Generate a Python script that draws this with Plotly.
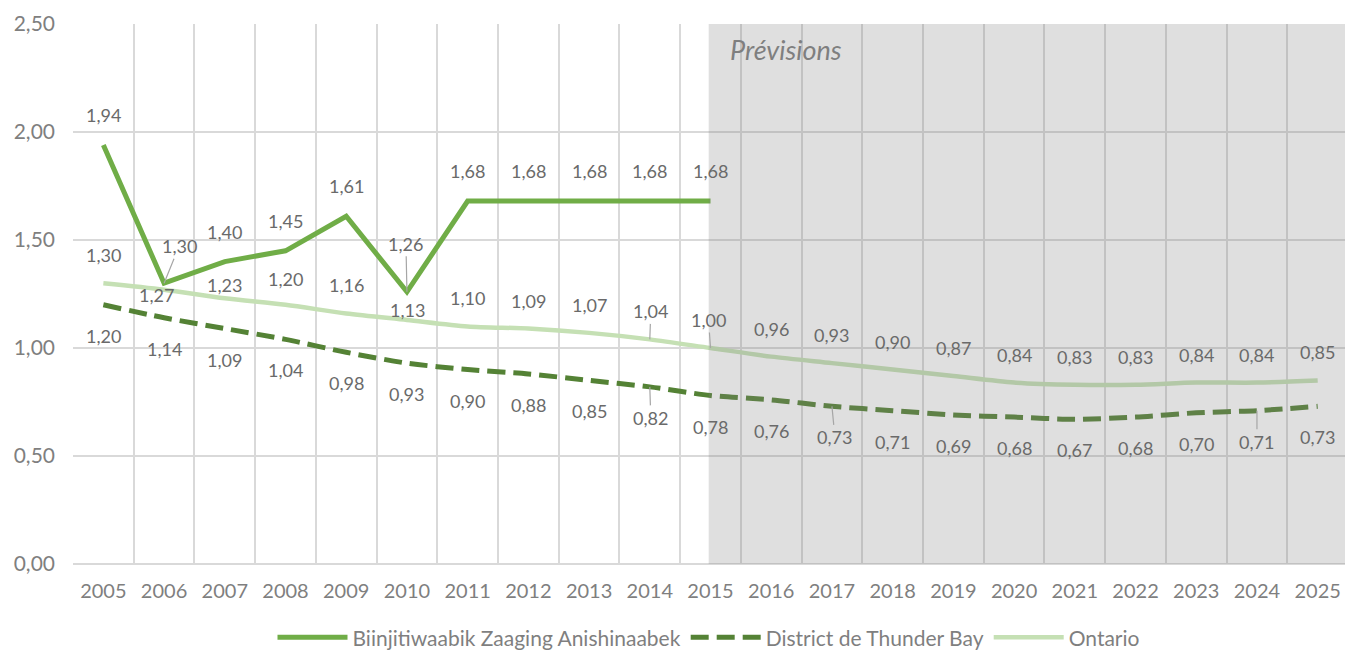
import plotly.graph_objects as go

years = [str(y) for y in range(2005, 2026)]
biinjitiwaabik = [1.94, 1.30, 1.40, 1.45, 1.61, 1.26, 1.68, 1.68, 1.68, 1.68, 1.68] + [None] * 10
thunder_bay = [1.20, 1.14, 1.09, 1.04, 0.98, 0.93, 0.90, 0.88, 0.85, 0.82, 0.78,
               0.76, 0.73, 0.71, 0.69, 0.68, 0.67, 0.68, 0.70, 0.71, 0.73]
ontario = [1.30, 1.27, 1.23, 1.20, 1.16, 1.13, 1.10, 1.09, 1.07, 1.04, 1.00,
           0.96, 0.93, 0.90, 0.87, 0.84, 0.83, 0.83, 0.84, 0.84, 0.85]
y_ticks = [0, 0.5, 1.0, 1.5, 2.0, 2.5]
forecast_start = "2015"

names = ["Biinjitiwaabik Zaaging Anishinaabek", "District de Thunder Bay", "Ontario"]
colors = ["#70AD47", "#548235", "#C5E0B4"]

FONT = "Lato"
LABEL_COLOR = "#6a6a6a"
TICK_COLOR = "#7f7f7f"

fig = go.Figure()
fig.add_trace(go.Scatter(x=years, y=biinjitiwaabik, name=names[0], mode="lines",
                         line=dict(color=colors[0], width=5), connectgaps=False))
fig.add_trace(go.Scatter(x=years, y=thunder_bay, name=names[1], mode="lines",
                         line=dict(color=colors[1], width=5, dash="18px,8px", shape="spline", smoothing=0.8)))
fig.add_trace(go.Scatter(x=years, y=ontario, name=names[2], mode="lines",
                         line=dict(color=colors[2], width=4.5, shape="spline", smoothing=0.8)))

def fmt(v):
    return f"{v:.2f}".replace(".", ",")

# label offsets (pixels): default and per-year exceptions (dx, dy, leader)
label_specs = [
    (biinjitiwaabik, (0, 30), {"2006": (15, 37, True), "2010": (-1, 48, True)}),
    (ontario, (0, 28), {"2006": (-8, -5, False), "2007": (0, 13, False), "2008": (0, 26, False),
                        "2010": (1, 10, False), "2014": (1, 28, True), "2015": (-2, 28, True)}),
    (thunder_bay, (0, -31), {"2014": (1, -31, True), "2017": (3, -31, True), "2024": (0, -31, True)}),
]

annotations = []
for values, (ddx, ddy), exc in label_specs:
    for i, (yr, v) in enumerate(zip(years, values)):
        if v is None:
            continue
        dx, dy, leader = exc.get(yr, (ddx, ddy, False))
        common = dict(x=i, y=v, xref="x", yref="y", text=fmt(v),
                      font=dict(family=FONT, size=18, color=LABEL_COLOR))
        if leader:
            annotations.append(dict(**common, showarrow=True, arrowhead=0, arrowwidth=1.2,
                                    arrowcolor="#a6a6a6", ax=dx, ay=-dy, standoff=0))
        else:
            annotations.append(dict(**common, showarrow=False, xshift=dx, yshift=dy))

fs_idx = years.index(forecast_start)
annotations.append(dict(x=fs_idx, y=0.952, xref="x", yref="paper", text="<i>Prévisions</i>",
                        showarrow=False, xanchor="left", yanchor="middle", xshift=17,
                        font=dict(family=FONT, size=27, color="#7f7f7f")))

fig.add_shape(type="rect", xref="x", yref="y", x0=fs_idx - 0.03, x1=len(years) - 0.5,
              y0=0, y1=y_ticks[-1] + 0.005, fillcolor="rgba(128,128,128,0.25)",
              line=dict(width=0), layer="above")

fig.update_layout(
    width=1345, height=652,
    margin=dict(l=73, r=0, t=24, b=88, autoexpand=False),
    paper_bgcolor="white", plot_bgcolor="white",
    separators=", ",
    showlegend=True,
    legend=dict(orientation="h", x=0.5, xanchor="center", yref="container", y=0.022,
                yanchor="middle", font=dict(family=FONT, size=21, color=TICK_COLOR),
                itemwidth=70, traceorder="normal"),
    annotations=annotations,
    font=dict(family=FONT),
)
fig.update_xaxes(type="category", range=[-0.5, len(years) - 0.55], tickson="boundaries",
                 showgrid=True, gridcolor="#d9d9d9", gridwidth=1.5, ticks="",
                 showline=False, tickfont=dict(family=FONT, size=20, color=TICK_COLOR),
                 ticklabelstandoff=13, automargin=False)
fig.update_yaxes(range=[0, y_ticks[-1]], tickvals=y_ticks, tickformat=".2f",
                 showgrid=True, gridcolor="#d9d9d9", gridwidth=1.5,
                 zeroline=True, zerolinecolor="#d9d9d9", zerolinewidth=2,
                 ticks="", tickfont=dict(family=FONT, size=21, color=TICK_COLOR),
                 ticklabelstandoff=17, automargin=False)

# remove the default page margin so the figure fills the window exactly
fig.write_html("out.html", config={"displayModeBar": False},
               post_script="document.body.style.margin='0';document.body.style.overflow='hidden';")
